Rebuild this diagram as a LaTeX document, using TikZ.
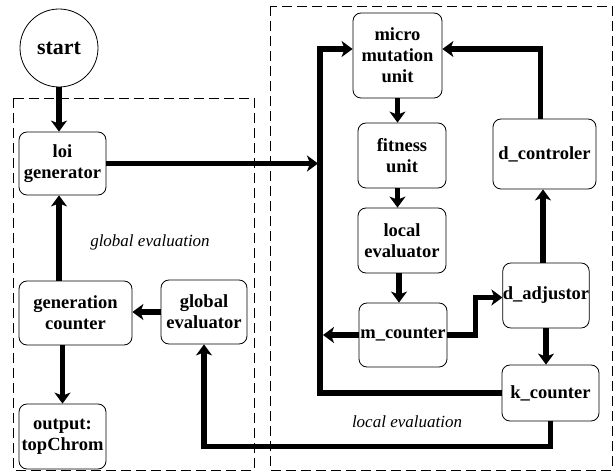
\documentclass[tikz,border=0pt]{standalone}
\usepackage{fontspec}
\setmainfont{Liberation Serif}
\usetikzlibrary{arrows.meta}
\tikzset{
  box/.style={draw, rounded corners=8pt, line width=0.8pt, align=center, inner sep=0pt,
    font=\fontsize{18.5}{21}\selectfont\bfseries},
  arr/.style={line width=5.5pt, -{Stealth[length=11pt,width=16pt,inset=3pt]}},
  dashbox/.style={draw, dash pattern=on 10pt off 5pt, line width=0.8pt},
  lbl/.style={font=\fontsize{17}{20}\selectfont\itshape}
}
\begin{document}
\begin{tikzpicture}[x=1pt,y=-1pt]
\useasboundingbox (0,0) rectangle (614,473);
\fill[white] (0,0) rectangle (614,473);
% dashed regions
\draw[dashbox] (13,98) rectangle (254,470);
\draw[dashbox] (270,6) rectangle (612,470);
% nodes
\node[draw, circle, line width=0.8pt, minimum size=78pt, inner sep=0pt,
  font=\fontsize{22}{24}\selectfont\bfseries] (start) at (59,48) {start};
\node[box, minimum width=87pt, minimum height=63pt] (loi) at (62.5,163.5) {loi\\generator};
\node[box, minimum width=113pt, minimum height=64pt] (gen) at (75.5,313) {generation\\counter};
\node[box, minimum width=86pt, minimum height=64pt] (ge) at (204,312) {global\\evaluator};
\node[box, minimum width=87pt, minimum height=65pt] (out) at (62.5,436.5) {output:\\topChrom};
\node[box, minimum width=89pt, minimum height=85pt] (mm) at (397.5,55.5) {micro\\mutation\\unit};
\node[box, minimum width=88pt, minimum height=65pt] (fu) at (402,155.5) {fitness\\unit};
\node[box, minimum width=88pt, minimum height=65pt] (le) at (402,240.5) {local\\evaluator};
\node[box, minimum width=103pt, minimum height=70pt] (dc) at (544.5,154) {d\_controler};
\node[box, minimum width=86pt, minimum height=65pt] (da) at (546,295.5) {d\_adjustor};
\node[box, minimum width=88pt, minimum height=64pt] (mc) at (403,335) {m\_counter};
\node[box, minimum width=97pt, minimum height=56pt] (kc) at (550.5,393) {k\_counter};
% labels
\node[lbl] (glab) at (150,242) {global evaluation};
\node[lbl] (llab) at (407,422) {local evaluation};
% coordinates
\coordinate (busin) at (318,163.5);
\coordinate (bustop) at (320,49);
\coordinate (mcout) at (323,335);
% connectors
\draw[arr] (start.south) -- (start.south |- loi.north);
\draw[arr] (start.south |- gen.north) -- (start.south |- loi.south);
\draw[arr] (out.north |- gen.south) -- (out.north);
\draw[arr] (ge.west) -- (gen.east |- ge.west);
\draw[arr] (kc.south) -- ++(0,25) -| (ge.south);
\draw[arr] (loi.east) -- (busin);
\draw[arr] (kc.west) -| (bustop) -- (bustop -| mm.west);
\draw[arr] (mc.west) -- (mcout);
\draw[arr] (mc.east) -- ++(28,0) |- ([yshift=-2pt]da.west);
\draw[arr] (da.south) -- (da.south |- kc.north);
\draw[arr] ([xshift=-3pt]da.north) -- ([xshift=-3pt]da.north |- dc.south);
\draw[arr] ([xshift=-4pt]dc.north) |- (bustop -| mm.east);
\draw[arr] (mm.south) -- (mm.south |- fu.north);
\draw[arr] (mm.south |- fu.south) -- (mm.south |- le.north);
\draw[arr] ([xshift=-3pt]le.south) -- ([xshift=-3pt]le.south |- mc.north);
\end{tikzpicture}
\end{document}
